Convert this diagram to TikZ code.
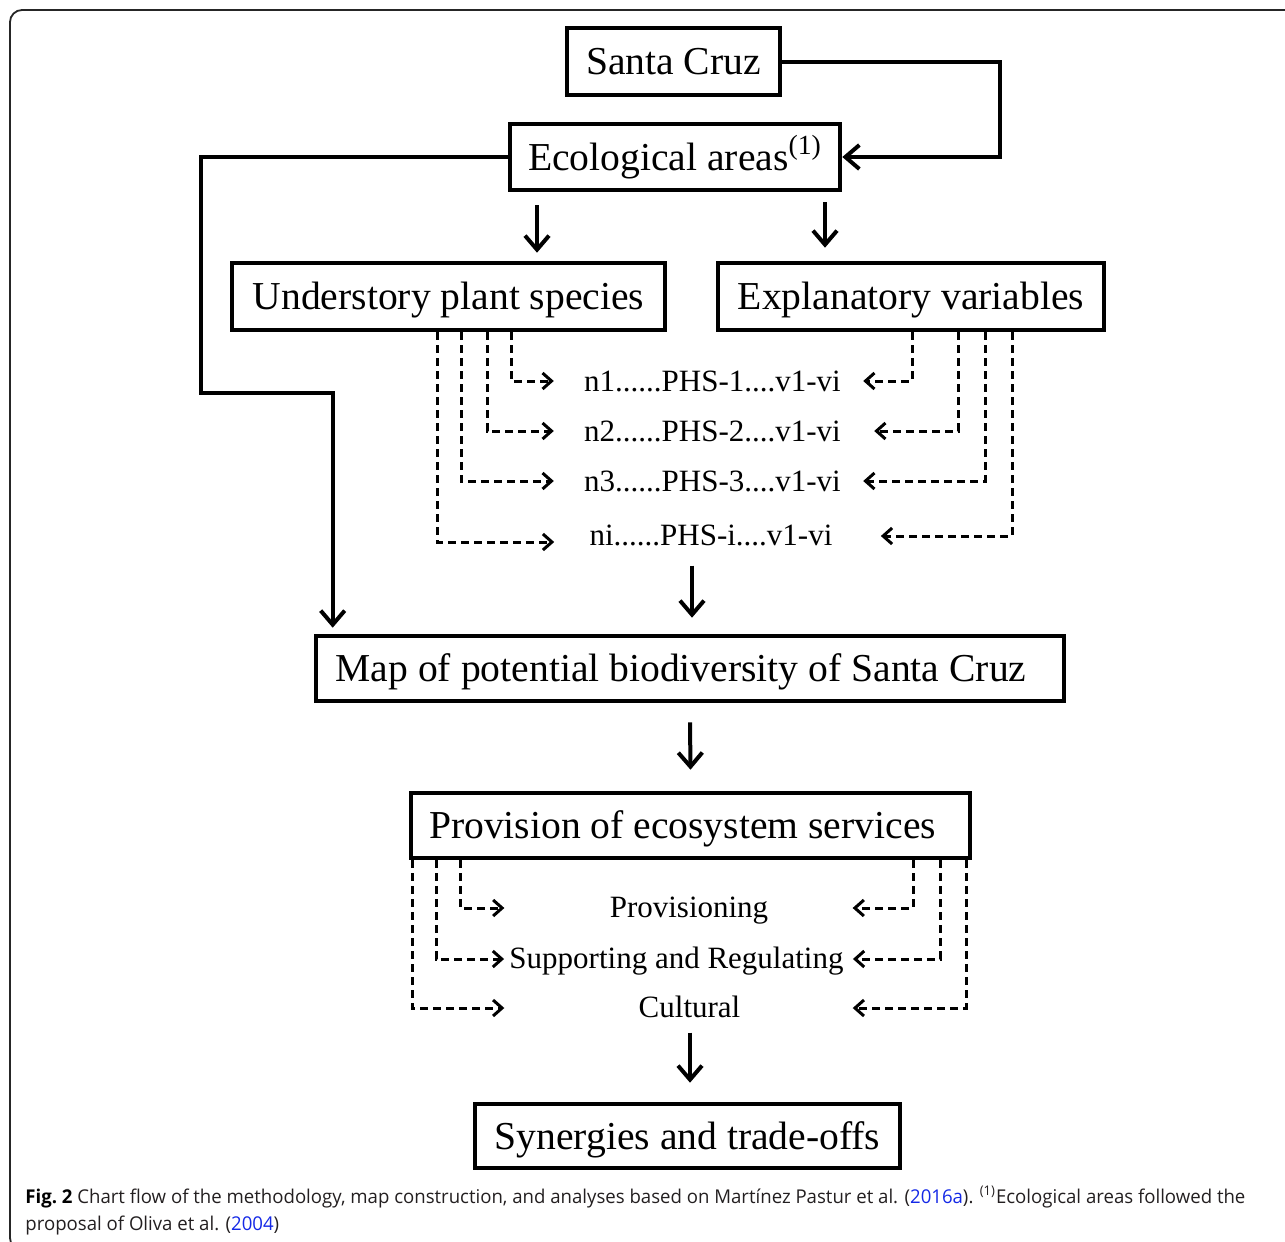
\documentclass[tikz,border=0pt]{standalone}
\usepackage{fontspec}
\setmainfont{Liberation Serif}
\newfontfamily\capfont{Open Sans}
\usetikzlibrary{arrows.meta,calc}
\definecolor{linkblue}{RGB}{20,40,230}
\definecolor{captext}{RGB}{35,31,32}
\begin{document}
\begin{tikzpicture}[x=0.5pt,y=-0.5pt,
  box/.style={draw, line width=2.3pt, inner sep=0pt, text height=13pt, text depth=0pt,
    font=\fontsize{19.8pt}{22pt}\selectfont},
  conn/.style={line width=2pt, -{Straight Barb[length=7pt,width=12pt]}},
  dsh/.style={line width=1.5pt, dash pattern=on 4pt off 2.5pt,
    -{Straight Barb[length=4.5pt,width=8pt]}},
  row/.style={inner sep=0pt, anchor=base, font=\fontsize{15.5pt}{18pt}\selectfont},
  frame/.style={line width=0.9pt, draw=black!85, rounded corners=6pt}]
\useasboundingbox (0,0) rectangle (1285,1242);
\begin{scope}
  \clip (0,0) rectangle (1285,1242);
  \draw[frame] (1300,1250) -| (10,10) -- (1300,10);
\end{scope}

% boxes
\node[box, minimum width=106.5pt, minimum height=33.5pt] (sc) at (673.5,61.5) {Santa Cruz};
\node[box, minimum width=165pt, minimum height=33pt] (eco) at (675,157) {Ecological areas\textsuperscript{(1)}};
\node[box, minimum width=216.5pt, minimum height=33.5pt] (und) at (448.5,296.5) {Understory plant species};
\node[box, minimum width=193pt, minimum height=33.5pt] (exp) at (911,296.5) {Explanatory variables};
\node[box, minimum width=374pt, minimum height=32.5pt] (map) at (690,668.5) {Map of potential biodiversity of Santa Cruz\hspace*{9pt}};
\node[box, minimum width=279.5pt, minimum height=32.5pt] (prov) at (690.5,825.5) {Provision of ecosystem services\hspace*{8pt}};
\node[box, minimum width=212.5pt, minimum height=32pt] (syn) at (687.5,1136) {Synergies and trade-offs};

% rows
\node[row] (r1) at (712.5,391) {n1......PHS-1....v1-vi};
\node[row] (r2) at (712.5,441) {n2......PHS-2....v1-vi};
\node[row] (r3) at (712.5,491) {n3......PHS-3....v1-vi};
\node[row] (r4) at (711,545) {ni......PHS-i....v1-vi};
\node[row] (p1) at (689,917) {Provisioning};
\node[row] (p2) at (676.5,968) {Supporting and Regulating};
\node[row] (p3) at (689.5,1017) {Cultural};

% solid connectors
\draw[conn] (sc.east) -- ($(sc.east)+(218,0)$) |- (eco.east);
\draw[conn] (eco.west) -| (201,393) -| ($(map.north west)+(19,-6)$);
\draw[conn] ($(eco.south)+(-138,13)$) -- ($(und.north)+(88.5,-8)$);
\draw[conn] ($(eco.south)+(150,10)$) -- ($(exp.north)+(-86,-13)$);
\draw[conn] ($(map.north)+(2,-68)$) -- ($(map.north)+(2,-16)$);
\draw[conn] ($(map.south)+(0,19)$) -- ($(prov.north)+(0,-21)$);
\draw[conn] ($(syn.north)+(2.5,-69)$) -- ($(syn.north)+(2.5,-19)$);

% dashed connectors (upper)
\draw[dsh] ($(und.south)+(62.5,0)$) |- ($(r1.base west)+(-30,-10)$);
\draw[dsh] ($(und.south)+(38.5,0)$) |- ($(r2.base west)+(-30,-10)$);
\draw[dsh] ($(und.south)+(12.5,0)$) |- ($(r3.base west)+(-30,-10)$);
\draw[dsh] ($(und.south)+(-11.5,0)$) |- ($(r4.base west)+(-35,-3)$);
\draw[dsh] ($(exp.south)+(1,0)$) |- ($(r1.base east)+(22,-10)$);
\draw[dsh] ($(exp.south)+(47,0)$) |- ($(r2.base east)+(33,-10)$);
\draw[dsh] ($(exp.south)+(74,0)$) |- ($(r3.base east)+(22,-10)$);
\draw[dsh] ($(exp.south)+(101,0)$) |- ($(r4.base east)+(48,-9)$);

% dashed connectors (lower)
\draw[dsh] ($(prov.south)+(-230.5,0)$) |- ($(p1.base west)+(-105,-9)$);
\draw[dsh] ($(prov.south)+(-254.5,0)$) |- ($(p2.base west)+(-5,-9)$);
\draw[dsh] ($(prov.south)+(-278.5,0)$) |- ($(p3.base west)+(-134,-9)$);
\draw[dsh] ($(prov.south)+(222.5,0)$) |- ($(p1.base east)+(84,-9)$);
\draw[dsh] ($(prov.south)+(249.5,0)$) |- ($(p2.base east)+(9,-9)$);
\draw[dsh] ($(prov.south)+(275.5,0)$) |- ($(p3.base east)+(112,-9)$);

% caption
\node[anchor=base west, inner sep=0pt, text=captext] (cap) at (25,1203)
 {\capfont\fontsize{9.5pt}{13.5pt}\selectfont
  \resizebox{610pt}{\height}{\begin{tabular}[t]{@{}l@{}}
  {\bfseries\color{black}Fig.~2} Chart flow of the methodology, map construction, and analyses based on Mart\'{\i}nez Pastur et al. (\textcolor{linkblue}{2016a}). \textsuperscript{(1)}Ecological areas followed the\\
  proposal of Oliva et al. (\textcolor{linkblue}{2004})
  \end{tabular}}};
\end{tikzpicture}
\end{document}
